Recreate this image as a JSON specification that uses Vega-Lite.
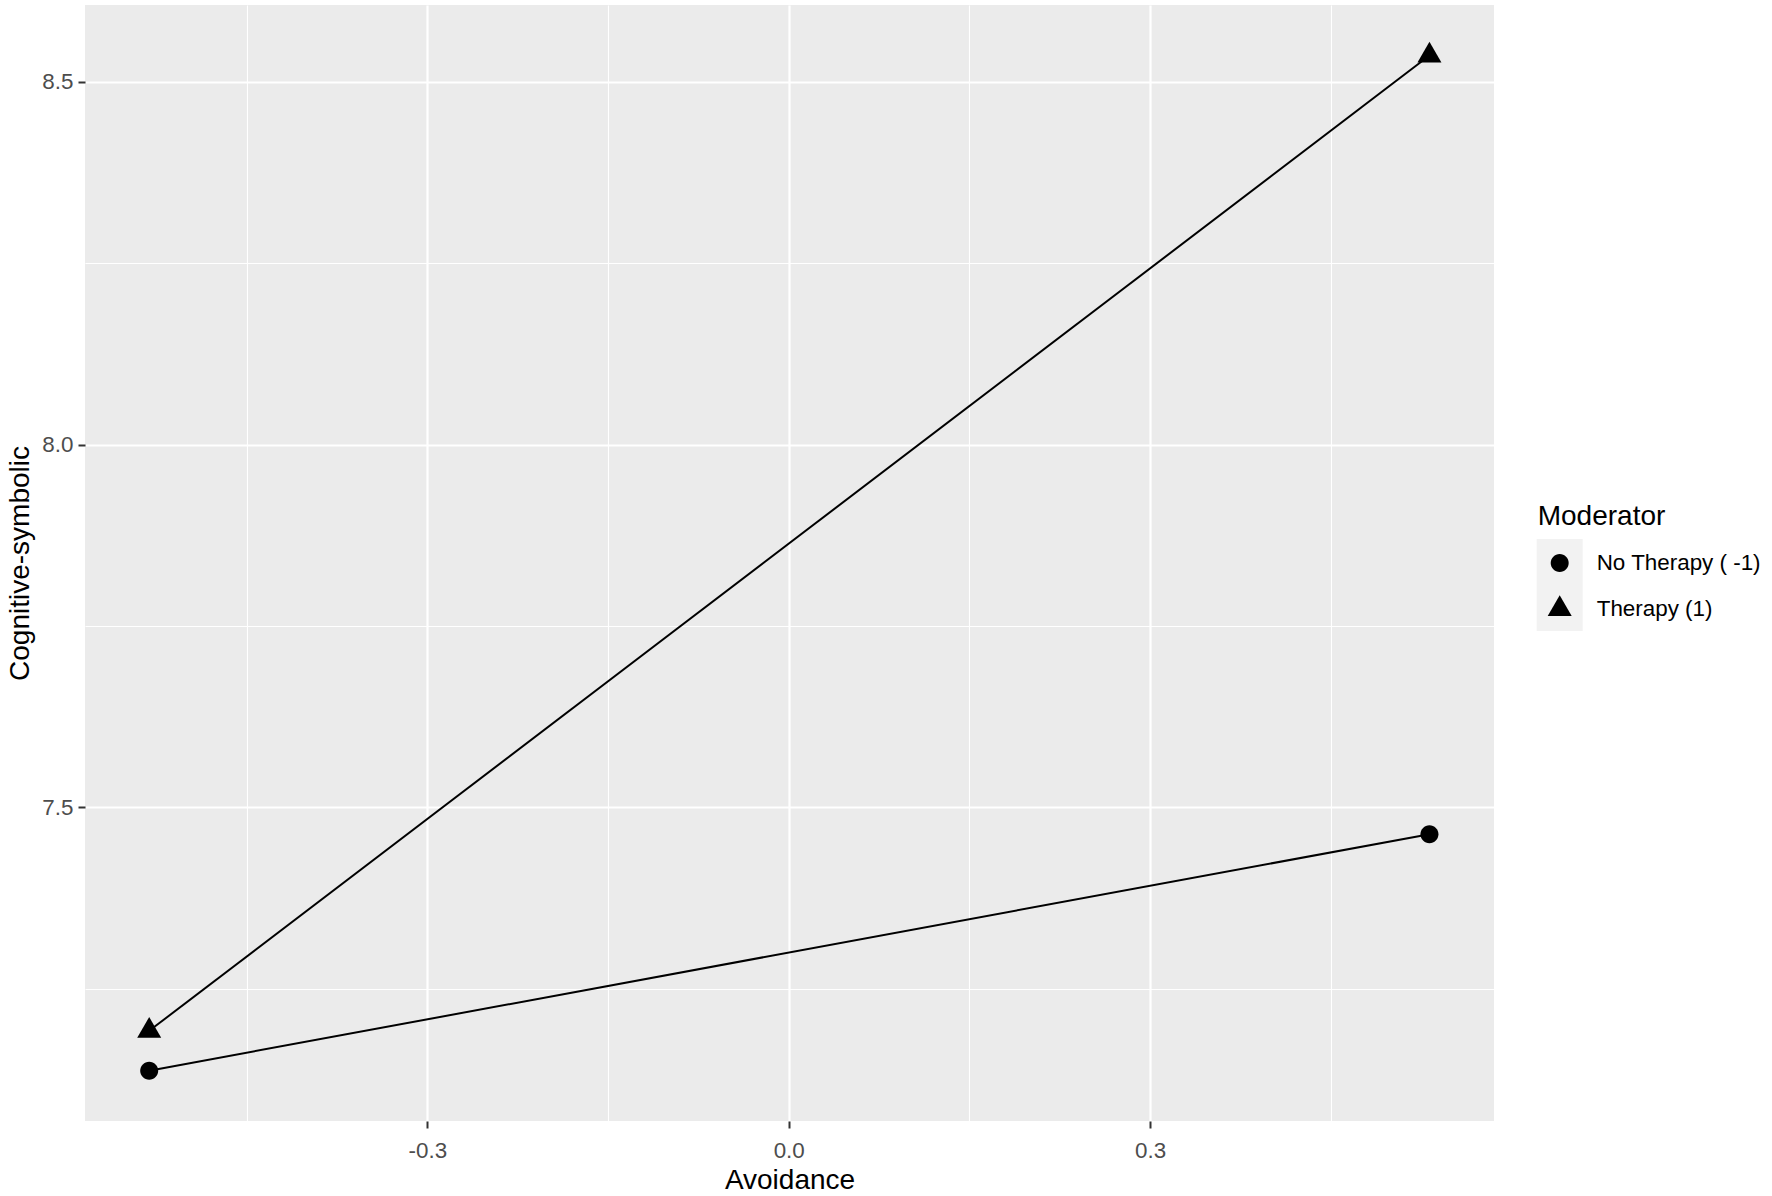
{
  "$schema": "https://vega.github.io/schema/vega-lite/v6.json",
  "width": 1409,
  "height": 1116,
  "autosize": {"type": "none"},
  "padding": {"left": 85, "top": 5, "right": 278, "bottom": 75},
  "background": "white",
  "config": {
    "view": {"fill": "#EBEBEB", "stroke": null},
    "font": "Liberation Sans",
    "axis": {
      "domain": false,
      "gridColor": "white",
      "tickColor": "#333333",
      "tickSize": 7,
      "tickWidth": 2,
      "labelColor": "#4D4D4D",
      "labelFontSize": 22.4,
      "labelFont": "Liberation Sans",
      "titleFont": "Liberation Sans",
      "titleFontSize": 28,
      "titleColor": "black",
      "titleFontWeight": "normal"
    },
    "legend": {"labelFont": "Liberation Sans", "titleFont": "Liberation Sans"}
  },
  "data": {
    "values": [
      {"Avoidance": -0.531, "Cognitive": 7.137, "Moderator": "No Therapy ( -1)"},
      {"Avoidance": 0.532, "Cognitive": 7.463, "Moderator": "No Therapy ( -1)"},
      {"Avoidance": -0.531, "Cognitive": 7.192, "Moderator": "Therapy (1)"},
      {"Avoidance": 0.532, "Cognitive": 8.536, "Moderator": "Therapy (1)"}
    ]
  },
  "resolve": {"axis": {"x": "independent", "y": "independent"}},
  "layer": [
    {
      "mark": {"type": "line", "color": "black", "strokeWidth": 2},
      "encoding": {
        "x": {
          "field": "Avoidance", "type": "quantitative",
          "scale": {"domain": [-0.5843, 0.5856], "nice": false, "zero": false},
          "axis": {"orient": "bottom", "values": [-0.45, -0.15, 0.15, 0.45], "grid": true, "gridWidth": 1.1, "ticks": false, "labels": false, "title": null}
        },
        "y": {
          "field": "Cognitive", "type": "quantitative",
          "scale": {"domain": [7.0677, 8.6057], "nice": false, "zero": false},
          "axis": {"orient": "left", "values": [7.25, 7.75, 8.25], "grid": true, "gridWidth": 1.1, "ticks": false, "labels": false, "title": null}
        },
        "detail": {"field": "Moderator", "type": "nominal"}
      }
    },
    {
      "mark": {"type": "point", "filled": true, "color": "black", "opacity": 1, "size": 576},
      "encoding": {
        "x": {
          "field": "Avoidance", "type": "quantitative",
          "axis": {"orient": "bottom", "values": [-0.3, 0, 0.3], "grid": true, "gridWidth": 2.2, "labelPadding": 11, "titlePadding": 5.5, "title": "Avoidance",
            "labelExpr": "replace(format(datum.value, '.1f'), '\u2212', '-')"}
        },
        "y": {
          "field": "Cognitive", "type": "quantitative",
          "axis": {"orient": "left", "values": [7.5, 8.0, 8.5], "grid": true, "gridWidth": 2.2, "labelPadding": 5, "titlePadding": 7.3, "title": "Cognitive-symbolic",
            "labelExpr": "format(datum.value, '.1f')"}
        },
        "shape": {
          "field": "Moderator", "type": "nominal",
          "scale": {"range": [
            "M-0.75,0A0.75,0.75,0,1,1,0.75,0A0.75,0.75,0,1,1,-0.75,0Z",
            "M0,-1.1547L1,0.5774L-1,0.5774Z"
          ]},
          "legend": {
            "orient": "none", "legendX": 1452.7, "legendY": 498, "zindex": 2,
            "title": "Moderator", "titleFontSize": 28, "titleColor": "black", "titleFontWeight": "normal", "titlePadding": 20,
            "labelFontSize": 22.4, "labelColor": "black", "labelLimit": 400,
            "symbolSize": 576, "symbolFillColor": "black", "symbolStrokeWidth": 0,
            "rowPadding": 20, "padding": 0, "symbolOffset": 10, "labelOffset": 25
          }
        }
      }
    },
    {
      "mark": {"type": "point", "filled": true, "opacity": 0, "size": 1},
      "encoding": {
        "x": {"field": "Avoidance", "type": "quantitative", "axis": null},
        "y": {"field": "Cognitive", "type": "quantitative", "axis": null},
        "fill": {
          "field": "Moderator", "type": "nominal",
          "scale": {"domain": ["No Therapy ( -1)", "Therapy (1)"], "range": ["#F2F2F2", "#F2F2F2"]},
          "legend": {
            "orient": "none", "legendX": 1451.7, "legendY": 534, "zindex": 1,
            "title": null, "symbolType": "square", "symbolSize": 2116, "symbolStrokeWidth": 0, "symbolOpacity": 1,
            "labelExpr": "''", "rowPadding": 0, "padding": 0
          }
        }
      }
    }
  ]
}
